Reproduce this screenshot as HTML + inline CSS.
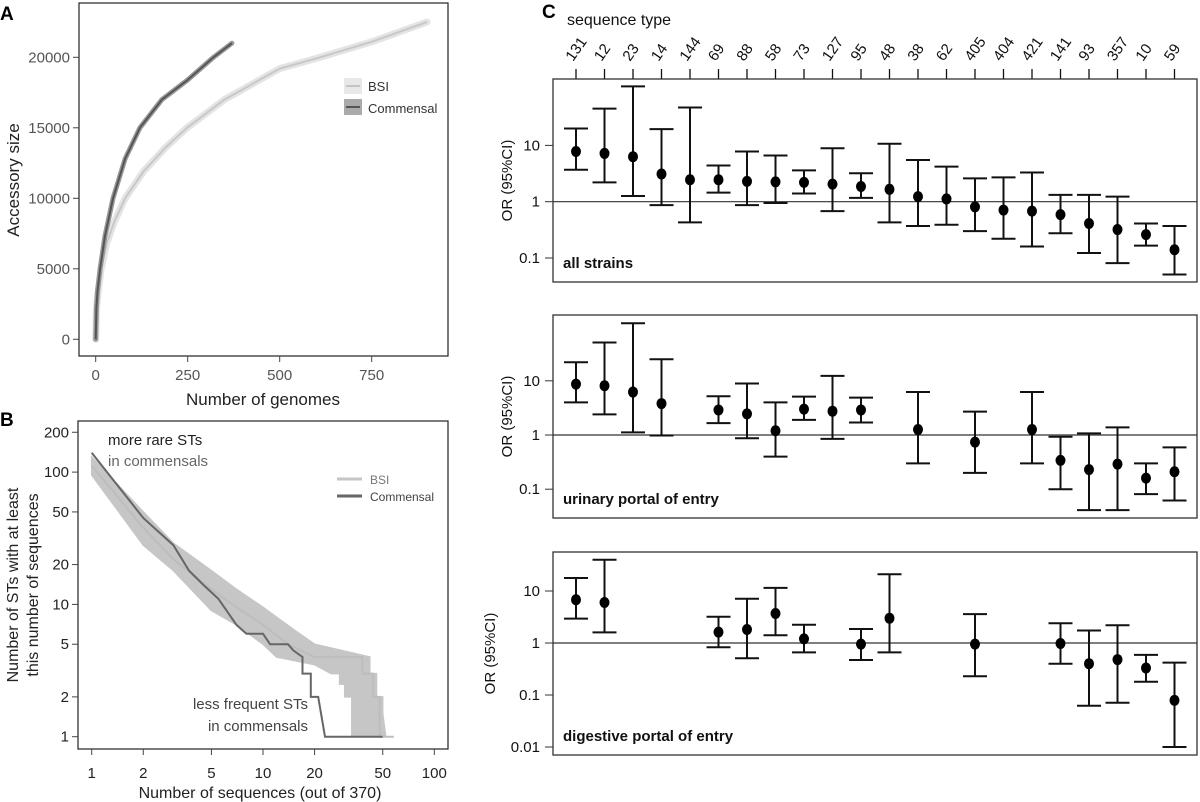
<!DOCTYPE html>
<html><head><meta charset="utf-8">
<style>
html,body{margin:0;padding:0;background:#fff;}
svg{display:block;font-family:"Liberation Sans",Arial,sans-serif;}
</style></head>
<body>
<svg id="fig" width="1200" height="802" viewBox="0 0 1200 802" xmlns="http://www.w3.org/2000/svg">
<text x="0" y="20" font-size="19" font-weight="bold">A</text>
<text x="0" y="426" font-size="19" font-weight="bold">B</text>
<text x="542" y="18" font-size="19" font-weight="bold">C</text>
<g id="pa"></g>
<g id="pb"></g>
<g id="pc"></g>
</svg>
<script>
// ---------- Panel A data ----------
const aGenomesCom = [0,2,5,12,25,47,80,120,180,250,320,370];
const aSizeCom    = [0,2200,3400,5000,7300,10000,12800,15000,17000,18400,20000,21000];
const aGenomesBsi = [0,2,5,15,30,50,80,130,190,248,350,500,610,750,900];
const aSizeBsi    = [0,2000,3000,5000,6800,8300,10000,11900,13600,15000,17000,19200,20000,21100,22500];
const aXTicks = [0,250,500,750];
const aYTicks = [0,5000,10000,15000,20000];

// ---------- Panel B data ----------
const bComX = [1,2,3,3.7,4.5,5.5,7,8,10,11,14,15,17,17,19,19,21,23,50];
const bComY = [140,45,28,18,14,11,7,6,6,5,5,4.5,4,3,3,2,2,1,1];
const bBsiUpperX = [1,2,3,5,7,10,12,15,20,42,42,46,46,50,50,52];
const bBsiUpperY = [130,50,29,18,13,9.5,8,6.5,5,4,3,3,2,2,1.5,1];
const bBsiLowerX = [1,2,3,5,7,10,12,20,25,28,28,30,30,33,33];
const bBsiLowerY = [95,28,18,9,7,5,4,3.5,3,3,2.5,2.5,2,2,1];
const bBsiLineX = [1,2,3,5,7,10,14,20,30,38,38,44,44,48,48,58];
const bBsiLineY = [112,38,22,13,9.5,7,5,4,4,4,3,3,2,2,1,1];
const bXTicks = [1,2,5,10,20,50,100];
const bYTicks = [1,2,5,10,20,50,100,200];

// ---------- Panel C data ----------
const seqTypes = ["131","12","23","14","144","69","88","58","73","127","95","48","38","62","405","404","421","141","93","357","10","59"];
const allOR = [7.8,7.2,6.3,3.1,2.45,2.45,2.3,2.25,2.2,2.05,1.86,1.66,1.23,1.12,0.81,0.71,0.68,0.59,0.41,0.32,0.26,0.14];
const allHi = [20,45,112,19.5,47,4.4,7.8,6.6,3.6,8.9,3.2,10.7,5.5,4.2,2.6,2.7,3.3,1.32,1.32,1.23,0.41,0.37];
const allLo = [3.7,2.2,1.26,0.87,0.43,1.45,0.87,0.95,1.4,0.68,1.17,0.43,0.37,0.39,0.30,0.22,0.16,0.275,0.123,0.081,0.166,0.051];
const uriOR = [8.7,8.1,6.2,3.8,null,2.9,2.45,1.2,3.0,2.75,2.9,null,1.26,null,0.74,null,1.26,0.34,0.23,0.29,0.16,0.21];
const uriHi = [22,51,115,25,null,5.2,8.9,4.0,5.1,12.3,4.9,null,6.2,null,2.7,null,6.2,0.93,1.07,1.38,0.30,0.59];
const uriLo = [4.0,2.4,1.12,0.98,null,1.66,0.87,0.40,1.9,0.85,1.7,null,0.30,null,0.20,null,0.30,0.10,0.041,0.041,0.081,0.062];
const digOR = [6.8,6.0,null,null,null,1.62,1.82,3.7,1.2,null,0.95,3.0,null,null,0.95,null,null,0.98,0.40,0.48,0.33,0.079];
const digHi = [17.8,40,null,null,null,3.2,7.1,11.5,2.24,null,1.86,21,null,null,3.6,null,null,2.4,1.74,2.2,0.59,0.42];
const digLo = [2.95,1.6,null,null,null,0.83,0.51,1.41,0.66,null,0.47,0.66,null,null,0.23,null,null,0.40,0.062,0.071,0.18,0.010];
const orTicksA = [0.1,1,10];
const orTicksC = [0.01,0.1,1,10];
const orTickLabels = {"0.01":"0.01","0.1":"0.1","1":"1","10":"10"};

const NS="http://www.w3.org/2000/svg";
function mk(parent,tag,attrs,text){const e=document.createElementNS(NS,tag);for(const k in attrs)e.setAttribute(k,attrs[k]);if(text!==undefined)e.textContent=text;parent.appendChild(e);return e;}

// ===== Panel A =====
(function(){
  const g=document.getElementById('pa');
  const x=v=>95.7+v*(276/750), y=v=>339.3-v*(282/20000);
  const box=mk(g,'rect',{x:79,y:3,width:369,height:353,fill:'none',stroke:'#222','stroke-width':1.2});
  
  
  aXTicks.forEach(t=>{
    const l=mk(g,'line',{x1:x(t),x2:x(t),y1:356,y2:362,stroke:'#444'});
    
    
    const tx=mk(g,'text',{x:x(t),y:380,'font-size':15,fill:'#555','text-anchor':'middle'},String(t));
    
    
  });
  aYTicks.forEach(t=>{
    const l=mk(g,'line',{x1:73,x2:79,y1:y(t),y2:y(t),stroke:'#444'});
    
    
    const tx=mk(g,'text',{x:70,y:y(t)+5,'font-size':15,fill:'#555','text-anchor':'end'},String(t));
    
    
  });
  const xt=mk(g,'text',{x:263,y:405,'font-size':17,fill:'#222','text-anchor':'middle'},'Number of genomes');
  
  
  const yt=mk(g,'text',{x:0,y:0,'font-size':17,fill:'#222','text-anchor':'middle',transform:'translate(19,180) rotate(-90)'},'Accessory size');
  
  
  const path=(xs,ys)=>xs.map((v,i)=>(i?'L':'M')+x(v).toFixed(1)+','+y(ys[i]).toFixed(1)).join(' ');
  const bb=mk(g,'path',{d:path(aGenomesBsi,aSizeBsi),fill:'none',stroke:'#e4e4e4','stroke-width':7,'stroke-linecap':'round','stroke-linejoin':'round'});
  
  
  const bl=mk(g,'path',{d:path(aGenomesBsi,aSizeBsi),fill:'none',stroke:'#c8c8c8','stroke-width':2,'stroke-linejoin':'round'});
  
  
  const cb=mk(g,'path',{d:path(aGenomesCom,aSizeCom),fill:'none',stroke:'#999','stroke-width':5,'stroke-linecap':'round','stroke-linejoin':'round'});
  
  
  const cl=mk(g,'path',{d:path(aGenomesCom,aSizeCom),fill:'none',stroke:'#555','stroke-width':2,'stroke-linejoin':'round'});
  
  
  const lg=mk(g,'g',{});
  
  
  mk(lg,'rect',{x:344,y:78,width:18,height:16,fill:'#e8e8e8'});
  mk(lg,'line',{x1:346,x2:360,y1:86,y2:86,stroke:'#c4c4c4','stroke-width':2});
  mk(lg,'text',{x:368,y:91,'font-size':13,fill:'#333'},'BSI');
  mk(lg,'rect',{x:344,y:99,width:18,height:16,fill:'#aaa'});
  mk(lg,'line',{x1:346,x2:360,y1:107,y2:107,stroke:'#555','stroke-width':2});
  mk(lg,'text',{x:368,y:113,'font-size':13,fill:'#333'},'Commensal');
})();

// ===== Panel B =====
(function(){
  const g=document.getElementById('pb');
  const x=v=>91.7+Math.log10(v)*171.3, y=v=>736.7-Math.log10(v)*132.3;
  const box=mk(g,'rect',{x:78,y:421,width:370,height:328,fill:'none',stroke:'#222','stroke-width':1.2});
  
  
  bXTicks.forEach(t=>{
    const l=mk(g,'line',{x1:x(t),x2:x(t),y1:749,y2:755,stroke:'#444'});
    
    
    const tx=mk(g,'text',{x:x(t),y:778,'font-size':15,fill:'#222','text-anchor':'middle'},String(t));
    
    
  });
  bYTicks.forEach(t=>{
    const l=mk(g,'line',{x1:72,x2:78,y1:y(t),y2:y(t),stroke:'#444'});
    
    
    const tx=mk(g,'text',{x:69,y:y(t)+5,'font-size':15,fill:'#222','text-anchor':'end'},String(t));
    
    
  });
  const xt=mk(g,'text',{x:260,y:798,'font-size':16,fill:'#222','text-anchor':'middle'},'Number of sequences (out of 370)');
  
  
  const yt1=mk(g,'text',{x:0,y:0,'font-size':16,fill:'#222','text-anchor':'middle',transform:'translate(18,585) rotate(-90)'},'Number of STs with at least');
  
  
  const yt2=mk(g,'text',{x:0,y:0,'font-size':16,fill:'#222','text-anchor':'middle',transform:'translate(38,585) rotate(-90)'},'this number of sequences');
  
  
  const pts=(xs,ys)=>xs.map((v,i)=>x(v).toFixed(1)+','+y(ys[i]).toFixed(1));
  const up=pts(bBsiUpperX,bBsiUpperY), lo=pts(bBsiLowerX,bBsiLowerY).reverse();
  const band=mk(g,'polygon',{points:up.concat(lo).join(' '),fill:'#c6c6c6',stroke:'#c6c6c6','stroke-width':1.5});
  
  
  const bl=mk(g,'polyline',{points:pts(bBsiLineX,bBsiLineY).join(' '),fill:'none',stroke:'#bdbdbd','stroke-width':2});
  
  
  const cl=mk(g,'polyline',{points:pts(bComX,bComY).join(' '),fill:'none',stroke:'#666','stroke-width':2});
  
  
  const a1=mk(g,'text',{x:108,y:445,'font-size':15,fill:'#222'},'more rare STs');
  
  
  const a2=mk(g,'text',{x:108,y:466,'font-size':15,fill:'#666'},'in commensals');
  
  
  const a3=mk(g,'text',{x:308,y:709,'font-size':15,fill:'#444','text-anchor':'end'},'less frequent STs');
  
  
  const a4=mk(g,'text',{x:308,y:731,'font-size':15,fill:'#444','text-anchor':'end'},'in commensals');
  
  
  const lg=mk(g,'g',{});
  
  
  mk(lg,'line',{x1:337,x2:362,y1:479,y2:479,stroke:'#c6c6c6','stroke-width':3});
  mk(lg,'text',{x:370,y:484,'font-size':12,fill:'#777'},'BSI');
  mk(lg,'line',{x1:337,x2:362,y1:496,y2:496,stroke:'#666','stroke-width':3});
  mk(lg,'text',{x:370,y:501,'font-size':12,fill:'#444'},'Commensal');
})();

// ===== Panel C =====
(function(){
  const g=document.getElementById('pc');
  const left=553,right=1197;
  const x=i=>576+i*28.5;
  const st=mk(g,'text',{x:567,y:25,'font-size':16,fill:'#111'},'sequence type');
  
  
  seqTypes.forEach((s,i)=>{
    const l=mk(g,'line',{x1:x(i),x2:x(i),y1:69,y2:79,stroke:'#111','stroke-width':1.3});
    
    
    const t=mk(g,'text',{x:0,y:0,'font-size':15,fill:'#111',transform:`translate(${x(i)-3},62) rotate(-55)`},s);
    
    
  });
  const panels=[
    {top:79,bot:282,one:201.7,dec:56.3,ticks:orTicksA,or:allOR,hi:allHi,lo:allLo,label:'all strains',name:'all-strains'},
    {top:315,bot:518,one:435,dec:54.2,ticks:orTicksA,or:uriOR,hi:uriHi,lo:uriLo,label:'urinary portal of entry',name:'urinary'},
    {top:552,bot:755,one:643,dec:52,ticks:orTicksC,or:digOR,hi:digHi,lo:digLo,label:'digestive portal of entry',name:'digestive'}
  ];
  panels.forEach(p=>{
    const y=v=>p.one-Math.log10(v)*p.dec;
    const pg=mk(g,'g',{});
    
    
    const box=mk(pg,'rect',{x:left,y:p.top,width:right-left,height:p.bot-p.top,fill:'none',stroke:'#333','stroke-width':1.3});
    
    
    const ref=mk(pg,'line',{x1:left,x2:right,y1:y(1),y2:y(1),stroke:'#333','stroke-width':1.2});
    
    
    p.ticks.forEach(t=>{
      const l=mk(pg,'line',{x1:545,x2:left,y1:y(t),y2:y(t),stroke:'#333'});
      
      
      const tx=mk(pg,'text',{x:540,y:y(t)+5,'font-size':15,fill:'#111','text-anchor':'end'},orTickLabels[String(t)]);
      
      
    });
    const yt=mk(pg,'text',{x:0,y:0,'font-size':15,fill:'#111','text-anchor':'middle',transform:`translate(${p.name==='digestive'?495:512},${(p.top+p.bot)/2}) rotate(-90)`},'OR (95%CI)');
    
    
    const lb=mk(pg,'text',{x:563,y:p.bot-14,'font-size':15,'font-weight':'bold',fill:'#111'},p.label);
    
    
    p.or.forEach((v,i)=>{
      if(v===null) return;
      const cx=x(i);
      const eb=mk(pg,'path',{d:`M${cx-12},${y(p.hi[i])} H${cx+12} M${cx},${y(p.hi[i])} V${y(p.lo[i])} M${cx-12},${y(p.lo[i])} H${cx+12}`,stroke:'#111','stroke-width':2,fill:'none'});
      
      
      const pt=mk(pg,'ellipse',{cx:cx,cy:y(v),rx:5,ry:5.5,fill:'#000'});
      
      
    });
  });
})();
</script>
</body></html>
